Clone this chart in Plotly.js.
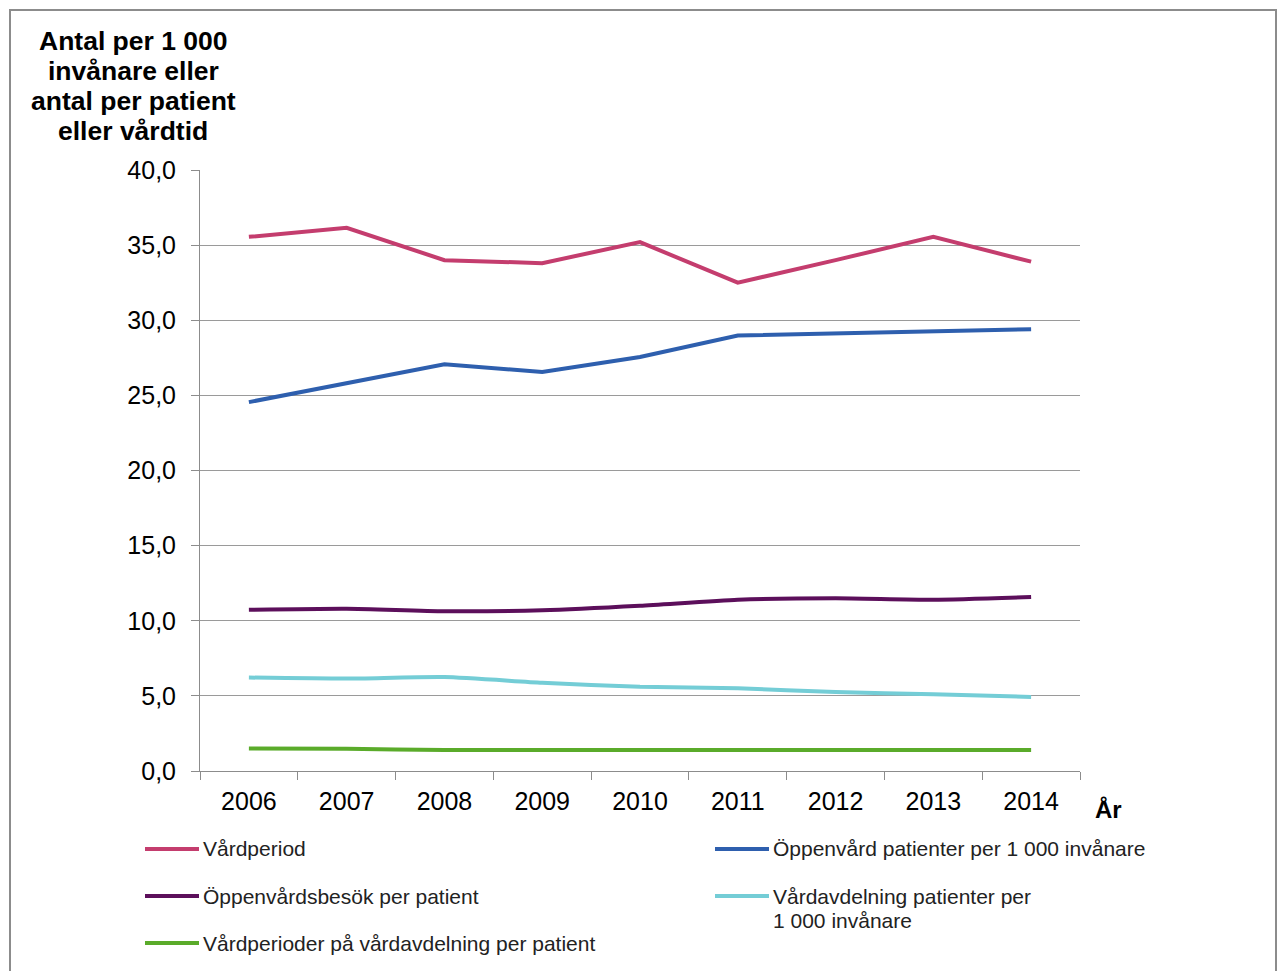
<!DOCTYPE html>
<html><head><meta charset="utf-8">
<script src="https://cdn.plot.ly/plotly-3.0.1.min.js"></script>
<style>html,body{margin:0;padding:0;background:#fff}#chart{width:1277px;height:971px}</style>
</head><body><div id="chart"></div>
<script>
const years = ['2006','2007','2008','2009','2010','2011','2012','2013','2014'];
const seriesNames = ['Vårdperiod','Öppenvård patienter per 1 000 invånare','Öppenvårdsbesök per patient','Vårdavdelning patienter per<br>1 000 invånare','Vårdperioder på vårdavdelning per patient'];
const yTitleLines = ['Antal per 1 000','invånare eller','antal per patient','eller vårdtid'];
const xTitle = 'År';
const vardperiod = [35.55, 36.15, 34.0, 33.8, 35.2, 32.5, 34.0, 35.55, 33.9];
const oppenvardPatienter = [24.55, 25.8, 27.07, 26.56, 27.55, 28.98, 29.1, 29.27, 29.4];
const oppenvardsbesok = [10.73, 10.8, 10.63, 10.7, 11.0, 11.4, 11.5, 11.4, 11.58];
const vardavdelningPatienter = [6.22, 6.15, 6.25, 5.87, 5.6, 5.5, 5.25, 5.1, 4.93];
const vardperioderPerPatient = [1.5, 1.48, 1.4, 1.4, 1.4, 1.4, 1.4, 1.4, 1.4];
const colors = ['#C43D6E','#2E5FAE','#5C0F5B','#74CDD6','#5AAB2A'];
const allSeries = [vardperiod, oppenvardPatienter, oppenvardsbesok, vardavdelningPatienter, vardperioderPerPatient];
const shapesLine = ['linear','linear','spline','spline','spline'];

const W = 1277, H = 971, L = 200, R = 197, T = 170, B = 200;
const pw = W - L - R, ph = H - T - B;
const px = x => (x - L) / pw;
const py = y => (H - B - y) / ph;

const traces = allSeries.map((vals, i) => ({
  type: 'scatter', mode: 'lines', x: years, y: vals, name: seriesNames[i].replace('<br>', ' '),
  line: {color: colors[i], width: 4, shape: shapesLine[i], smoothing: 0.6},
  showlegend: false, hoverinfo: 'x+y'
}));

// manual legend (layout positions)
const legendPos = [[145, 849], [715, 849], [145, 896], [715, 896], [145, 943]];
const legFont = {family: 'Liberation Sans, Arial', size: 21, color: '#222'};
const shapes = [];
const annotations = [];
legendPos.forEach((p, i) => {
  shapes.push({type: 'line', xref: 'paper', yref: 'paper', x0: px(p[0]), x1: px(p[0] + 54), y0: py(p[1]), y1: py(p[1]), line: {color: colors[i], width: 4}});
  seriesNames[i].split('<br>').forEach((ln, k) => {
    annotations.push({xref: 'paper', yref: 'paper', x: px(p[0] + 56), y: py(p[1] + k * 24), xanchor: 'left', yanchor: 'middle', align: 'left', showarrow: false,
      text: ln, font: legFont});
  });
});
// outer frame
shapes.push({type: 'rect', xref: 'paper', yref: 'paper', x0: px(10), x1: px(1276), y0: py(10), y1: py(985), line: {color: '#8c8c8c', width: 2}, fillcolor: 'rgba(0,0,0,0)'});

yTitleLines.forEach((ln, k) => {
  annotations.push({xref: 'paper', yref: 'paper', x: px(133), y: py(41 + k * 30), xanchor: 'center', yanchor: 'middle', showarrow: false,
    text: '<b>' + ln + '</b>', font: {family: 'Liberation Sans, Arial', size: 26.5, color: '#000'}});
});
annotations.push({xref: 'paper', yref: 'paper', x: px(1108), y: py(809), xanchor: 'center', yanchor: 'middle', showarrow: false,
  text: '<b>' + xTitle + '</b>', font: {family: 'Liberation Sans, Arial', size: 24, color: '#000'}});

const layout = {
  width: W, height: H,
  margin: {l: L, r: R, t: T, b: B},
  paper_bgcolor: '#fff', plot_bgcolor: '#fff',
  separators: ', ',
  font: {family: 'Liberation Sans, Arial', size: 25, color: '#000'},
  xaxis: {type: 'category', range: [-0.5, 8.5], showgrid: false, showline: true, linecolor: '#8c8c8c', linewidth: 1,
    ticks: 'outside', tickson: 'boundaries', ticklen: 8, tickcolor: '#8c8c8c', tickfont: {size: 25}, ticklabelstandoff: 8, zeroline: false, fixedrange: true},
  yaxis: {range: [0, 40], dtick: 5, tickformat: '.1f', showgrid: true, gridcolor: '#9a9a9a', gridwidth: 1,
    showline: true, linecolor: '#8c8c8c', linewidth: 1, ticks: 'outside', ticklen: 8, tickcolor: '#8c8c8c', tickfont: {size: 25}, ticklabelstandoff: 10, zeroline: false, fixedrange: true},
  shapes: shapes, annotations: annotations, showlegend: false
};
Plotly.newPlot('chart', traces, layout, {displayModeBar: false, staticPlot: true});
</script></body></html>
